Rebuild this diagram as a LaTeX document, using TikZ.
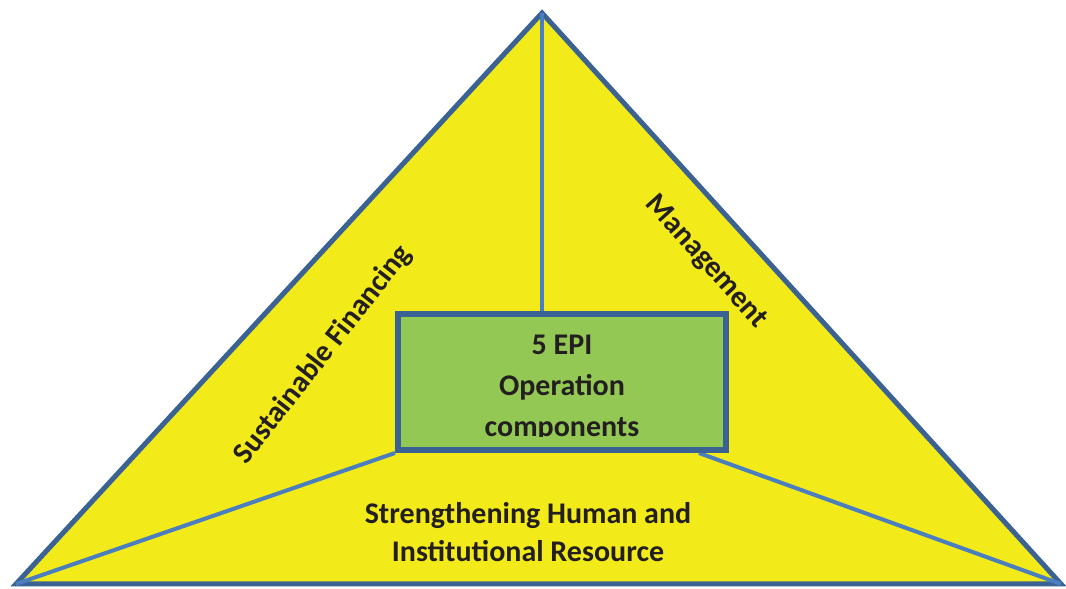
\documentclass[tikz,border=0pt]{standalone}
\usepackage{fontspec}
\setmainfont{Carlito}
\usetikzlibrary{calc,positioning}
\definecolor{edgeblue}{HTML}{3A6292}
\definecolor{lineblue}{HTML}{4A7EBF}
\definecolor{areayellow}{HTML}{F2EA19}
\definecolor{boxgreen}{HTML}{92C853}
\definecolor{inkdark}{HTML}{231F20}
\tikzset{%
	region/.style   = {draw=edgeblue, fill=areayellow, line width=5pt, line join=miter},
	divider/.style  = {draw=lineblue, line width=4pt},
	corebox/.style  = {draw=edgeblue, fill=boxgreen, line width=6pt, rectangle, minimum width=328pt, minimum height=136pt},
	label/.style    = {text=inkdark, font=\bfseries\fontsize{30}{38}\selectfont, align=center},
	corelabel/.style= {text=inkdark, font=\bfseries\fontsize{30}{41}\selectfont, align=center},
}

\begin{document}
\begin{tikzpicture}[x=1pt,y=1pt]
	\useasboundingbox (0,0) rectangle (1066,589);
	\coordinate (top) at (542,576);
	\coordinate (bl) at (16,5);
	\coordinate (br) at (1061,5);
	\draw[region] (top) -- (bl) -- (br) -- cycle;
	\node [corebox] (core) at (562,207) {};
	\coordinate (cut) at ($(core.south east)!0.09!(core.south west)$);
	\draw[divider] (top) -- (core.north -| top);
	\draw[divider] (core.south west) -- (bl);
	\draw[divider] (cut) -- (br);
	\node [corebox] at (core) {};
	% text of the box, cut off at the bottom as in the picture
	\begin{scope}
		\clip (core.north west) rectangle ([yshift=16pt]core.south east);
		\node [corelabel, anchor=base] (epi) at (562,152) {5 EPI\\Operation\\components};
	\end{scope}
	\node [label, rotate=52] (fin) at (323,234) {Sustainable Financing};
	\node [label, rotate=-48] (mgmt) at (706,327) {Management};
	\node [label] (res) at (528,57) {Strengthening Human and\\Institutional Resource};
\end{tikzpicture}
\end{document}
